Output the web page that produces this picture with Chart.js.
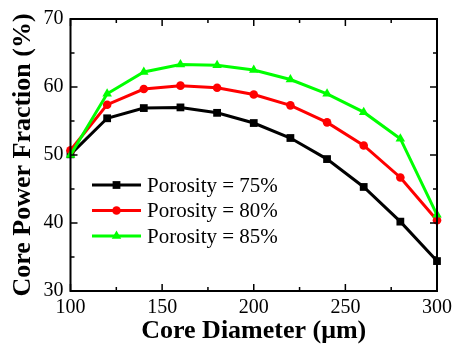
<!DOCTYPE html>
<html>
<head>
<meta charset="utf-8">
<script src="https://cdn.jsdelivr.net/npm/chart.js@4"></script>
<style>
  html, body { margin: 0; padding: 0; background: #fff; }
  #wrap { width: 453px; height: 344px; }
</style>
</head>
<body>
<div id="wrap"><canvas id="chart" width="453" height="344"></canvas></div>
<script>
// ================= DATA =================
const diameters = [100, 120, 140, 160, 180, 200, 220, 240, 260, 280, 300];
const por75 = [50.1, 55.4, 56.9, 57.0, 56.2, 54.7, 52.5, 49.4, 45.3, 40.2, 34.4];
const por80 = [50.7, 57.4, 59.7, 60.2, 59.9, 58.9, 57.3, 54.8, 51.4, 46.7, 40.4];
const por85 = [50.0, 59.0, 62.2, 63.3, 63.2, 62.5, 61.1, 59.0, 56.3, 52.4, 41.2];
const seriesLabels = ["Porosity = 75%", "Porosity = 80%", "Porosity = 85%"];
const xTicks = [100, 150, 200, 250, 300];
const yTicks = [30, 40, 50, 60, 70];

const SERIF = "'Liberation Serif', 'DejaVu Serif', serif";

function toPoints(ys) {
    return diameters.map((d, i) => ({ x: d, y: ys[i] }));
}

// ================= frame, inward ticks, legend =================
const framePlugin = {
    id: "frame",
    afterDraw(chart) {
        const { ctx, chartArea: a, scales } = chart;
        const xs = scales.x, ys = scales.y;
        ctx.save();
        ctx.strokeStyle = "#000";
        ctx.lineWidth = 2;
        ctx.strokeRect(a.left, a.top, a.right - a.left, a.bottom - a.top);

        ctx.lineWidth = 1.5;
        ctx.beginPath();
        for (let v = 100; v <= 300; v += 25) {
            const px = xs.getPixelForValue(v);
            const len = xTicks.includes(v) ? 7 : 4;
            ctx.moveTo(px, a.bottom); ctx.lineTo(px, a.bottom - len);
            ctx.moveTo(px, a.top); ctx.lineTo(px, a.top + len);
        }
        for (let v = 30; v <= 70; v += 5) {
            const py = ys.getPixelForValue(v);
            const len = yTicks.includes(v) ? 7 : 4;
            ctx.moveTo(a.left, py); ctx.lineTo(a.left + len, py);
            ctx.moveTo(a.right, py); ctx.lineTo(a.right - len, py);
        }
        ctx.stroke();

        // legend: line + marker + text
        const legY = [185, 210.5, 236];
        chart.data.datasets.forEach((ds, i) => {
            const y = legY[i];
            ctx.strokeStyle = ds.borderColor;
            ctx.lineWidth = ds.borderWidth;
            ctx.beginPath();
            ctx.moveTo(92, y); ctx.lineTo(141, y);
            ctx.stroke();
            ctx.fillStyle = ds.pointBackgroundColor;
            Chart.helpers.drawPoint(ctx, { pointStyle: ds.pointStyle, radius: ds.pointRadius, borderWidth: 0 }, 116.5, y);
            ctx.fillStyle = "#000";
            ctx.font = "21px " + SERIF;
            ctx.textAlign = "left";
            ctx.textBaseline = "middle";
            ctx.fillText(ds.label, 147, y + 1);
        });
        ctx.restore();
    }
};

function series(label, data, color, style, radius, order) {
    return {
        label: label,
        data: toPoints(data),
        borderColor: color,
        backgroundColor: color,
        pointBackgroundColor: color,
        pointBorderColor: color,
        pointBorderWidth: 0,
        borderWidth: 3,
        pointStyle: style,
        pointRadius: radius,
        pointHoverRadius: radius,
        tension: 0,
        clip: false,
        order: order
    };
}

new Chart(document.getElementById("chart"), {
    type: "line",
    data: {
        datasets: [
            series(seriesLabels[0], por75, "#000000", "rect", 5.5, 2),
            series(seriesLabels[1], por80, "#ff0000", "circle", 4.3, 1),
            series(seriesLabels[2], por85, "#00ff00", "triangle", 5.5, 0)
        ]
    },
    options: {
        responsive: false,
        animation: false,
        layout: { padding: { left: 0, top: 19, right: 16, bottom: 0 } },
        plugins: {
            legend: { display: false },
            tooltip: { enabled: false }
        },
        scales: {
            x: {
                type: "linear",
                min: 100,
                max: 300,
                afterFit: (s) => { s.height = 53; s.paddingLeft = 0; s.paddingRight = 0; },
                afterBuildTicks: (s) => { s.ticks = xTicks.map(v => ({ value: v })); },
                grid: { display: false, drawTicks: false },
                border: { display: false },
                ticks: {
                    color: "#000",
                    padding: 5,
                    maxRotation: 0,
                    font: { family: SERIF, size: 20 }
                },
                title: {
                    display: true,
                    text: "Core Diameter (μm)",
                    color: "#000",
                    padding: { top: 0, bottom: 0 },
                    font: { family: SERIF, size: 26, weight: "bold", lineHeight: 1 }
                }
            },
            y: {
                min: 30,
                max: 70,
                afterFit: (s) => { s.width = 70.5; s.paddingTop = 0; s.paddingBottom = 0; },
                afterBuildTicks: (s) => { s.ticks = yTicks.map(v => ({ value: v })); },
                grid: { display: false, drawTicks: false },
                border: { display: false },
                ticks: {
                    color: "#000",
                    padding: 7,
                    font: { family: SERIF, size: 20 }
                },
                title: {
                    display: true,
                    text: "Core Power Fraction (%)",
                    color: "#000",
                    padding: { top: 10, bottom: 0 },
                    font: { family: SERIF, size: 26, weight: "bold", lineHeight: 1 }
                }
            }
        }
    },
    plugins: [framePlugin]
});
</script>
</body>
</html>
